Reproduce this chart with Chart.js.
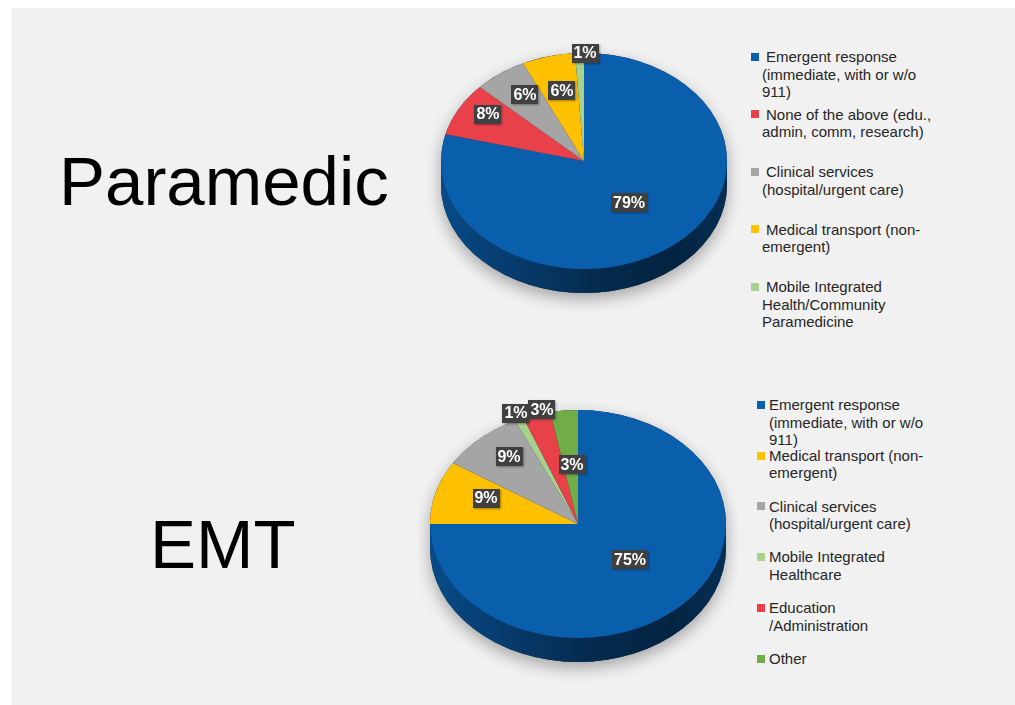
<!DOCTYPE html>
<html>
<head>
<meta charset="utf-8">
<script src="https://cdn.jsdelivr.net/npm/chart.js@4.4.1/dist/chart.umd.min.js"></script>
<style>
  html, body { margin: 0; padding: 0; background: #fff; width: 1015px; height: 705px; overflow: hidden;
               font-family: "Liberation Sans", Arial, sans-serif; }
  #panel { position: absolute; left: 12px; top: 8px; right: 0; bottom: 0; background: #f1f1f1; }
  .title { position: absolute; font-size: 69px; line-height: 69px; color: #000; white-space: nowrap; }
  canvas { position: absolute; }
  .legend { position: absolute; left: 0; top: 0; color: #262626; font-size: 15px; line-height: 17.5px; }
  .item { position: absolute; white-space: nowrap; }
  .swatch { position: absolute; width: 8px; height: 8px; }
</style>
</head>
<body>
<div id="panel"></div>
<div class="title" style="left:59px;top:147px">Paramedic</div>
<div class="title" style="left:150px;top:510px">EMT</div>
<canvas id="paramedic" width="320" height="320" style="left:424px;top:1px"></canvas>
<canvas id="emt" width="320" height="320" style="left:418px;top:364px"></canvas>
<div id="paramedicLegend" class="legend"></div>
<div id="emtLegend" class="legend"></div>
<script>
// ---- Paramedic: primary work setting ----
const paramedicCategories = [
  ['Emergent response', '(immediate, with or w/o', '911)'],
  ['None of the above (edu.,', 'admin, comm, research)'],
  ['Clinical services', '(hospital/urgent care)'],
  ['Medical transport (non-', 'emergent)'],
  ['Mobile Integrated', 'Health/Community', 'Paramedicine']
];
const paramedicValues = [79, 8, 6, 6, 1];
const paramedicColors = ['#0a5fad', '#e8414a', '#a5a5a5', '#ffc000', '#a9d18e'];

// ---- EMT: primary work setting ----
const emtCategories = [
  ['Emergent response', '(immediate, with or w/o', '911)'],
  ['Medical transport (non-', 'emergent)'],
  ['Clinical services', '(hospital/urgent care)'],
  ['Mobile Integrated', 'Healthcare'],
  ['Education', '/Administration'],
  ['Other']
];
const emtValues = [75, 9, 9, 1, 3, 3];
const emtColors = ['#0a5fad', '#ffc000', '#a5a5a5', '#a9d18e', '#e8414a', '#70ad47'];

const TAU = Math.PI * 2;
const DEG = Math.PI / 180;

function darken(hex, t) {
  const n = parseInt(hex.slice(1), 16);
  const r = (n >> 16) & 255, g = (n >> 8) & 255, b = n & 255;
  const k = 1 - t;
  return `rgb(${Math.round(r * k)},${Math.round(g * k)},${Math.round(b * k)})`;
}

// Draws the pie as a tilted disc: a shaded front wall under each slice,
// the slices themselves squashed vertically, then boxed value labels.
const tiltedPie = {
  id: 'tiltedPie',
  beforeDatasetsDraw(chart, args, opts) {
    const ctx = chart.ctx;
    const arcs = chart.getDatasetMeta(0).data;
    const { x, y, outerRadius: r } = arcs[0].getProps(['x', 'y', 'outerRadius'], true);
    const ry = r * opts.tilt, d = opts.depth;

    // soft shadow under the whole disc
    ctx.save();
    ctx.shadowColor = opts.shadowColor;
    ctx.shadowBlur = opts.shadowBlur;
    ctx.shadowOffsetY = opts.shadowOffsetY;
    ctx.beginPath();
    ctx.ellipse(x, y, r, ry, 0, Math.PI, TAU);
    ctx.ellipse(x, y + d, r, ry, 0, 0, Math.PI);
    ctx.closePath();
    ctx.fillStyle = '#0a2442';
    ctx.fill();
    ctx.restore();

    // front wall of every slice facing the viewer
    arcs.forEach((arc) => {
      const { startAngle, endAngle } = arc.getProps(['startAngle', 'endAngle'], true);
      const color = arc.options.backgroundColor;
      for (let k = -1; k <= 1; k++) {
        const a0 = Math.max(startAngle + k * TAU, 0);
        const a1 = Math.min(endAngle + k * TAU, Math.PI);
        if (a1 <= a0) continue;
        const g = ctx.createLinearGradient(x - r, 0, x + r, 0);
        opts.wallShade.forEach(([stop, t]) => g.addColorStop(stop, darken(color, t)));
        ctx.beginPath();
        ctx.ellipse(x, y, r, ry, 0, a0, a1);
        ctx.ellipse(x, y + d, r, ry, 0, a1, a0, true);
        ctx.closePath();
        ctx.fillStyle = g;
        ctx.fill();
      }
    });

    ctx.save();
    ctx.translate(x, y);
    ctx.scale(1, opts.tilt);
    ctx.translate(-x, -y);
  },
  afterDatasetsDraw(chart, args, opts) {
    const ctx = chart.ctx;
    ctx.restore();
    const arcs = chart.getDatasetMeta(0).data;
    const values = chart.data.datasets[0].data;
    ctx.save();
    ctx.font = 'bold 16px "Liberation Sans", Arial, sans-serif';
    ctx.textAlign = 'center';
    ctx.textBaseline = 'middle';
    arcs.forEach((arc, i) => {
      const { x, y, startAngle, endAngle, outerRadius } =
        arc.getProps(['x', 'y', 'startAngle', 'endAngle', 'outerRadius'], true);
      // label sits along the slice bisector, nudged by a small angle where slices are crowded
      const [f, shift] = opts.labelPlacement[i];
      const mid = (startAngle + endAngle) / 2 + shift * DEG;
      const px = x + Math.cos(mid) * outerRadius * f;
      const py = y + Math.sin(mid) * outerRadius * f * opts.tilt;
      const text = values[i] + '%';
      const w = Math.round(ctx.measureText(text).width + 4), h = 19;
      ctx.shadowColor = 'rgba(0,0,0,0.35)';
      ctx.shadowBlur = 2;
      ctx.shadowOffsetX = 1;
      ctx.shadowOffsetY = 1;
      ctx.fillStyle = '#404040';
      ctx.fillRect(Math.round(px - w / 2), Math.round(py - h / 2), w, h);
      ctx.shadowColor = 'transparent';
      ctx.fillStyle = '#ffffff';
      ctx.fillText(text, Math.round(px), Math.round(py) + 1);
    });
    ctx.restore();
  }
};

function makePie(id, categories, values, colors, radius, pieOpts) {
  return new Chart(document.getElementById(id), {
    type: 'pie',
    data: {
      labels: categories,
      datasets: [{
        data: values,
        backgroundColor: colors,
        borderWidth: 0,
        radius: radius,
        clip: false
      }]
    },
    options: {
      responsive: false,
      animation: false,
      events: [],
      layout: { padding: 0 },
      plugins: {
        legend: { display: false },
        tooltip: { enabled: false },
        tiltedPie: Object.assign({
          shadowColor: 'rgba(0,0,0,0.32)',
          shadowBlur: 16,
          shadowOffsetY: 6,
          wallShade: [[0, 0.22], [0.3, 0.4], [0.55, 0.56], [0.82, 0.62], [1, 0.52]]
        }, pieOpts)
      }
    },
    plugins: [tiltedPie]
  });
}

function buildLegend(chart, el, layout) {
  const items = Chart.overrides.pie.plugins.legend.labels.generateLabels(chart);
  items.forEach((item, i) => {
    const top = layout.top + i * layout.pitch;
    const sw = document.createElement('div');
    sw.className = 'swatch';
    sw.style.left = layout.swatchX + 'px';
    sw.style.top = (top + 8.75 - 4) + 'px';
    sw.style.background = item.fillStyle;
    el.appendChild(sw);

    const box = document.createElement('div');
    box.className = 'item';
    box.style.left = layout.textX + 'px';
    box.style.top = top + 'px';
    box.style.textIndent = layout.indent + 'px';
    const lines = Array.isArray(item.text) ? item.text : [item.text];
    lines.forEach((line, j) => {
      if (j) box.appendChild(document.createElement('br'));
      box.appendChild(document.createTextNode(line));
    });
    el.appendChild(box);
  });
}

// label placement per slice: [fraction of radius, angle nudge in degrees]
const paramedicChart = makePie('paramedic', paramedicCategories, paramedicValues, paramedicColors, 143, {
  tilt: 108 / 143, depth: 24,
  labelPlacement: [[0.5, -1.6], [0.8, 4], [0.74, 2], [0.67, 1], [1.0, 2.3]]
});
const emtChart = makePie('emt', emtCategories, emtValues, emtColors, 148, {
  tilt: 114 / 148, depth: 24,
  labelPlacement: [[0.47, -3.4], [0.66, 4], [0.75, 3], [1.06, 0], [1.03, 2.4], [0.52, 1]]
});

buildLegend(paramedicChart, document.getElementById('paramedicLegend'),
  { swatchX: 751, textX: 762, indent: 4, top: 48, pitch: 57.5 });
buildLegend(emtChart, document.getElementById('emtLegend'),
  { swatchX: 757, textX: 769, indent: 0, top: 396, pitch: 50.8 });
</script>
</body>
</html>
